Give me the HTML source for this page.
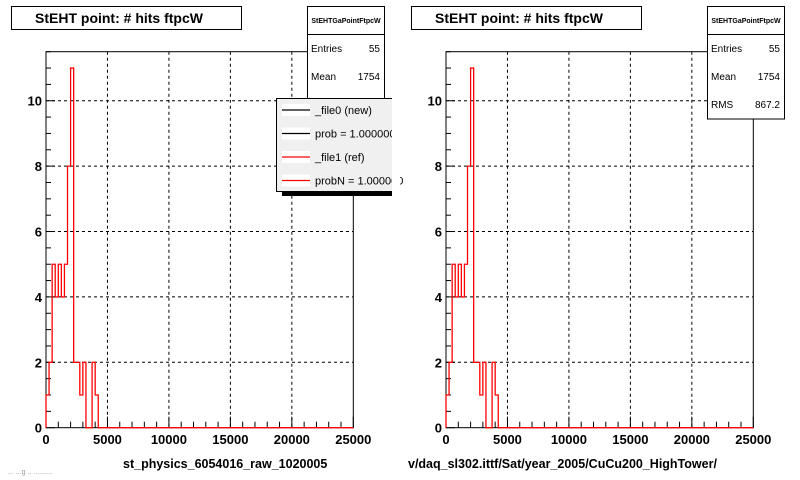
<!DOCTYPE html>
<html><head><meta charset="utf-8"><style>
body{margin:0;background:#fff;}
svg{display:block;font-family:"Liberation Sans",Arial,sans-serif;}
</style></head><body>
<svg id="c" width="800" height="480" viewBox="0 0 800 480"></svg>
<script>
const binWidth = 250;
const counts = [1,2,5,4,5,4,5,8,11,2,2,1,2,0,0,2,1];
const xTicks = [0,5000,10000,15000,20000,25000];
const xTickLabels = ["0","5000","10000","15000","20000","25000"];
const yTicks = [0,2,4,6,8,10];
const yTickLabels = ["0","2","4","6","8","10"];
const xMax = 25000, yMax = 11.5;
const xTitles = ["st_physics_6054016_raw_1020005","v/daq_sl302.ittf/Sat/year_2005/CuCu200_HighTower/"];
const titleText = "StEHT point: # hits ftpcW";
const statNames = ["Entries","Mean","RMS"];
const statValues = ["55","1754","867.2"];
const legendLabels = ["_file0 (new)","prob = 1.000000","_file1 (ref)","probN = 1.000000"];
const legendColors = ["#000","#000","#f00","#f00"];

const NS="http://www.w3.org/2000/svg";
const svg=document.getElementById('c');
function mk(tag,attrs,parent,text){const e=document.createElementNS(NS,tag);for(const k in attrs)e.setAttribute(k,attrs[k]);if(text!==undefined)e.textContent=text;(parent||svg).appendChild(e);return e;}

function panel(ox,idx){
  const g=mk('g',{transform:`translate(${ox},0)`});
  
  
  const L=46,R=353.3,T=51.7,B=427.7;
  const sx=v=>L+(v/xMax)*(R-L);
  const sy=v=>B-(v/yMax)*(B-T);
  // grid
  xTicks.forEach(t=>{if(t>0&&t<xMax){const l=mk('line',{x1:sx(t),x2:sx(t),y1:T,y2:B,stroke:'#000','stroke-width':1,'stroke-dasharray':'3,3'},g);
    
    }});
  yTicks.forEach(t=>{if(t>0){const l=mk('line',{x1:L,x2:R,y1:sy(t),y2:sy(t),stroke:'#000','stroke-width':1,'stroke-dasharray':'3,3'},g);
    
    }});
  // frame
  const fr=mk('rect',{x:L,y:T,width:R-L,height:B-T,fill:'none',stroke:'#000','stroke-width':1},g);
  
  
  // ticks
  for(let v=0;v<=xMax;v+=1000){const maj=v%5000===0;mk('line',{x1:sx(v),x2:sx(v),y1:B,y2:B-(maj?11:6),stroke:'#000'},g);}
  for(let v=0;v<=yMax;v+=0.5){const maj=v%2===0;mk('line',{x1:L,x2:L+(maj?9:5),y1:sy(v),y2:sy(v),stroke:'#000'},g);}
  xTicks.forEach((t,i)=>{const tx=mk('text',{x:sx(t),y:444,'font-size':13,'font-weight':'bold','text-anchor':'middle'},g,xTickLabels[i]);
    
    });
  yTicks.forEach((t,i)=>{const tx=mk('text',{x:L-4,y:sy(t)+5,'font-size':13,'font-weight':'bold','text-anchor':'end'},g,yTickLabels[i]);
    
    });
  // histogram
  let d=`M${sx(0)},${sy(0)}`;
  counts.forEach((c,i)=>{d+=` L${sx(i*binWidth)},${sy(c)} L${sx((i+1)*binWidth)},${sy(c)}`;});
  d+=` L${sx(counts.length*binWidth)},${sy(0)} L${sx(xMax)},${sy(0)}`;
  const h=mk('path',{d:d,fill:'none',stroke:'#f00','stroke-width':1.3},g);
  
  
  // x title
  const xt=mk('text',{x:idx===0?123:8,y:468,'font-size':12.5,'font-weight':'bold'},g,xTitles[idx]);
  
  
  // title box
  const tb=mk('g',{},g);
  
  
  mk('rect',{x:11.5,y:6.5,width:230,height:23,fill:'#fff',stroke:'#000'},tb);
  mk('text',{x:35,y:23,'font-size':14,'font-weight':'bold'},tb,titleText);
  // stats box
  const nStats=idx===0?3:3;
  const sb=mk('g',{},g);
  
  
  mk('rect',{x:307.5,y:6.5,width:77,height:112.5,fill:'#fff',stroke:'#000'},sb);
  mk('line',{x1:307.5,x2:384.5,y1:34.5,y2:34.5,stroke:'#000'},sb);
  mk('text',{x:346,y:23,'font-size':7,'font-weight':'bold','text-anchor':'middle'},sb,'StEHTGaPointFtpcW');
  statNames.forEach((n,i)=>{
    mk('text',{x:311,y:52+i*28,'font-size':10},sb,n);
    mk('text',{x:380,y:52+i*28,'font-size':10,'text-anchor':'end'},sb,statValues[i]);
  });
  if(idx===0){
    const lg=mk('g',{},g);
    
    
    mk('rect',{x:282,y:192,width:112,height:4,fill:'#000'},lg);
    mk('rect',{x:276.5,y:98.5,width:120,height:93,fill:'#f0f0f0',stroke:'#000'},lg);
    legendLabels.forEach((t,i)=>{
      const y=110+i*23.5;
      const e=mk('g',{},lg);
      
      
      mk('rect',{x:282,y:y-6,width:28,height:12,fill:'#fff'},e);
      mk('line',{x1:282,x2:310,y1:y,y2:y,stroke:legendColors[i],'stroke-width':1.2},e);
      mk('text',{x:315,y:y+4,'font-size':11},e,t);
    });
    const ft=mk('text',{x:8,y:474,'font-size':7,fill:'#999'},g,'... ...g .. ..........');
    
    
  }
}
panel(0,0);
panel(400,1);
// clip at page edge for legend overflow
const cover=mk('rect',{x:392,y:90,width:8,height:110,fill:'#fff'});


</script>
</body></html>
